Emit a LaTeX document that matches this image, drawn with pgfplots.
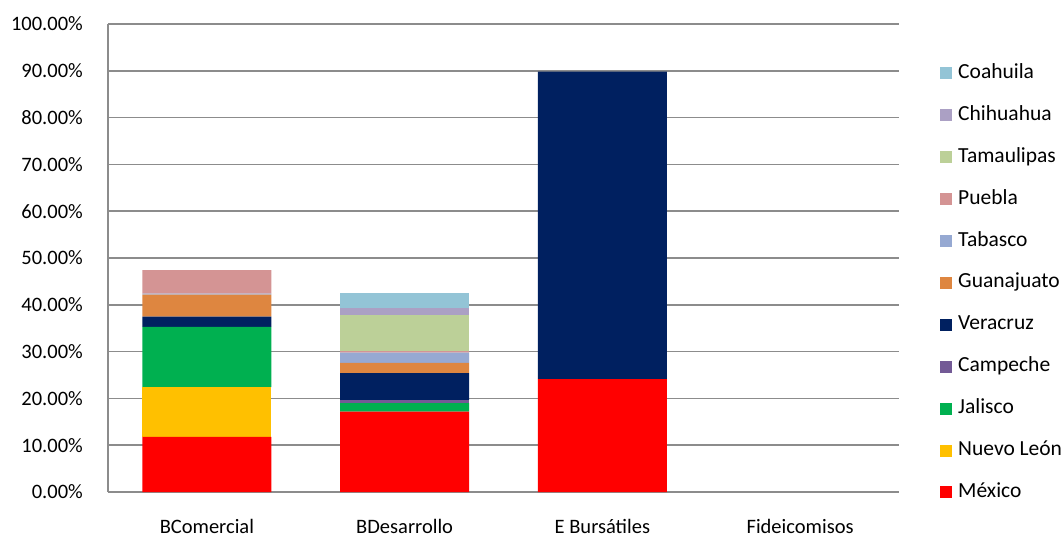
\documentclass[border=0pt]{standalone}
\usepackage{fontspec}
\setmainfont{Carlito}
\usepackage{pgfplots}
\pgfplotsset{compat=1.18}
\definecolor{cMex}{HTML}{FF0000}
\definecolor{cNL}{HTML}{FFC000}
\definecolor{cJal}{HTML}{00B050}
\definecolor{cCam}{HTML}{735A96}
\definecolor{cVer}{HTML}{002060}
\definecolor{cGua}{HTML}{DE8640}
\definecolor{cTab}{HTML}{96A9D2}
\definecolor{cPue}{HTML}{D49494}
\definecolor{cTam}{HTML}{BCD098}
\definecolor{cChi}{HTML}{ABA0C4}
\definecolor{cCoa}{HTML}{93C4D6}
\definecolor{gridc}{HTML}{8C8C8C}
\newcommand{\fs}{\fontsize{20.5}{24}\selectfont}
\newcommand{\lfs}{\fontsize{21.5}{25}\selectfont}
\begin{document}
\begin{tikzpicture}
\useasboundingbox (0,0) rectangle (1062pt,536pt);
\begin{axis}[
  at={(108pt,44pt)}, anchor=south west,
  scale only axis, width=791pt, height=468pt,
  ybar stacked, bar width=0.652,
  xmin=-0.5, xmax=3.5, ymin=0, ymax=100,
  xtick={0,1,2,3},
  xticklabels={BComercial,BDesarrollo,E Bursátiles,Fideicomisos},
  ytick={0,10,...,100},
  yticklabel={\pgfmathprintnumber[fixed,fixed zerofill,precision=2]{\tick}\%},
  /pgf/number format/assume math mode=true,
  major tick length=0pt,
  ymajorgrids, grid style={gridc, line width=1.6pt},
  axis x line*=bottom, axis y line*=left,
  axis line style={gridc, line width=1.6pt, -},
  tick label style={font=\fs, text=black},
  yticklabel style={anchor=east, inner sep=0pt, xshift=-25pt},
  xticklabel style={anchor=base, inner sep=0pt, yshift=-41pt},
  reverse legend,
  legend image code/.code={\fill[#1,draw=none] (0pt,-6pt) rectangle (12pt,6pt);},
  legend style={at={(1,0.452)}, anchor=west, xshift=41pt, yshift=-2.5pt, draw=none, fill=none,
    font=\lfs, inner sep=0pt, row sep=23.9pt,
    nodes={inner sep=0pt, text height=14pt, text depth=4pt},
    /tikz/every odd column/.style={column sep=6pt}},
  legend cell align=left,
  every axis plot/.append style={draw=none},
]
\addplot[fill=cMex] coordinates {(0,11.8) (1,17.2) (2,24.1) (3,0)};
\addlegendentry{México}
\addplot[fill=cNL] coordinates {(0,10.6) (1,0) (2,0) (3,0)};
\addlegendentry{Nuevo León}
\addplot[fill=cJal] coordinates {(0,12.9) (1,1.8) (2,0) (3,0)};
\addlegendentry{Jalisco}
\addplot[fill=cCam] coordinates {(0,0) (1,0.7) (2,0) (3,0)};
\addlegendentry{Campeche}
\addplot[fill=cVer] coordinates {(0,2.2) (1,5.7) (2,65.7) (3,0)};
\addlegendentry{Veracruz}
\addplot[fill=cGua] coordinates {(0,4.7) (1,2.2) (2,0) (3,0)};
\addlegendentry{Guanajuato}
\addplot[fill=cTab] coordinates {(0,0.2) (1,2.2) (2,0) (3,0)};
\addlegendentry{Tabasco}
\addplot[fill=cPue] coordinates {(0,5.0) (1,0.3) (2,0) (3,0)};
\addlegendentry{Puebla}
\addplot[fill=cTam] coordinates {(0,0) (1,7.7) (2,0) (3,0)};
\addlegendentry{Tamaulipas}
\addplot[fill=cChi] coordinates {(0,0) (1,1.5) (2,0) (3,0)};
\addlegendentry{Chihuahua}
\addplot[fill=cCoa] coordinates {(0,0) (1,3.2) (2,0) (3,0)};
\addlegendentry{Coahuila}
\end{axis}
\end{tikzpicture}
\end{document}
